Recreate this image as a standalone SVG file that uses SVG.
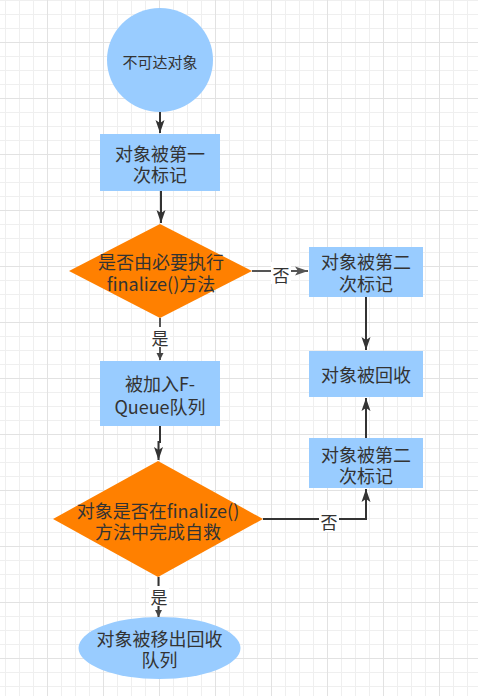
<svg xmlns="http://www.w3.org/2000/svg" width="478" height="696" viewBox="0 0 478 696">
<style>
.t{font-family:"Noto Sans CJK SC","Microsoft YaHei",sans-serif;font-size:18px;fill:#333;text-anchor:middle;dominant-baseline:central}
.s{font-size:15px}
.lb{font-size:17px}
.blue{fill:#99ccff}
.orange{fill:#ff8000}
.e{fill:none;stroke:#333;stroke-width:2}
.g{fill:none;stroke:#555;stroke-width:2}
.bg{fill:#fff}
</style>
<defs>
<pattern id="grid" patternUnits="userSpaceOnUse" x="47" y="42" width="56" height="56">
<rect width="56" height="56" fill="#fff"/>
<path d="M0 14.5H56M0 28.5H56M0 42.5H56M14.5 0V56M28.5 0V56M42.5 0V56" stroke="#efefef" stroke-width="1"/>
<path d="M0 0.5H56M0.5 0V56" stroke="#e2e2e2" stroke-width="1"/>
</pattern>
<marker id="a" markerUnits="userSpaceOnUse" markerWidth="16" markerHeight="12" viewBox="-13 -6 16 12" refX="0" refY="0" orient="auto">
<path d="M0,0 L-13,-4.5 L-10,0 L-13,4.5 Z" fill="#333"/>
</marker>
<marker id="ag" markerUnits="userSpaceOnUse" markerWidth="16" markerHeight="12" viewBox="-13 -6 16 12" refX="0" refY="0" orient="auto">
<path d="M0,0 L-13,-4.5 L-10,0 L-13,4.5 Z" fill="#555"/>
</marker>
<marker id="sm" markerUnits="userSpaceOnUse" markerWidth="10" markerHeight="10" viewBox="-8 -5 10 10" refX="0" refY="0" orient="auto">
<path d="M0,0 L-7,-3.5 L-7,3.5 Z" fill="#444"/>
</marker>
</defs>
<rect width="478" height="696" fill="url(#grid)"/>

<g id="connectors">
<path class="e" d="M160,112 V133" marker-end="url(#a)"/>
<path class="e" d="M161,191 V223" marker-end="url(#a)"/>
<path class="g" d="M252,271 H308" marker-end="url(#ag)"/>
<rect class="bg" x="271" y="262" width="20" height="22"/>
<text class="t lb" x="281" y="274">否</text>
<path class="g" d="M160,318 V360" marker-end="url(#sm)"/>
<rect class="bg" x="150" y="327" width="20" height="20"/>
<text class="t lb" x="160" y="337">是</text>
<path class="e" d="M366,297 V350" marker-end="url(#a)"/>
<path class="e" d="M160,426 V442 H158.5 V460" marker-end="url(#a)"/>
<path class="e" d="M366,438 V398" marker-end="url(#a)"/>
<path class="e" d="M263,519 H366 V489" marker-end="url(#a)"/>
<rect class="bg" x="319" y="510" width="20" height="22"/>
<text class="t lb" x="329" y="521">否</text>
<path class="e" d="M158.5,577 V617" marker-end="url(#sm)"/>
<rect class="bg" x="149" y="586" width="20" height="20"/>
<text class="t lb" x="159" y="596">是</text>
</g>

<g id="n1">
<ellipse class="blue" cx="160" cy="60" rx="53" ry="52"/>
<text class="t s" x="160" y="61">不可达对象</text>
</g>
<g id="n2">
<rect class="blue" x="100" y="134" width="120" height="57"/>
<text class="t"><tspan x="160" y="153">对象被第一</tspan><tspan x="160" y="174">次标记</tspan></text>
</g>
<g id="n3">
<polygon class="orange" points="160,224 252,271 160,318 69,271"/>
<text class="t"><tspan x="161" y="261">是否由必要执行</tspan><tspan x="161" y="283">finalize()方法</tspan></text>
</g>
<g id="n4">
<rect class="blue" x="309" y="247" width="114" height="50"/>
<text class="t"><tspan x="366" y="261">对象被第二</tspan><tspan x="366" y="283">次标记</tspan></text>
</g>
<g id="n5">
<rect class="blue" x="309" y="351" width="114" height="46"/>
<text class="t" x="366" y="374">对象被回收</text>
</g>
<g id="n6">
<rect class="blue" x="100" y="361" width="120" height="65"/>
<text class="t"><tspan x="160" y="383">被加入F-</tspan><tspan x="160" y="406">Queue队列</tspan></text>
</g>
<g id="n7">
<rect class="blue" x="309" y="438" width="114" height="50"/>
<text class="t"><tspan x="366" y="454">对象被第二</tspan><tspan x="366" y="475">次标记</tspan></text>
</g>
<g id="n8">
<polygon class="orange" points="158,461 263,519 158,577 53,519"/>
<text class="t"><tspan x="158" y="510">对象是否在finalize()</tspan><tspan x="158" y="531">方法中完成自救</tspan></text>
</g>
<g id="n9">
<ellipse class="blue" cx="159.5" cy="648" rx="81" ry="31"/>
<text class="t"><tspan x="159.5" y="638">对象被移出回收</tspan><tspan x="159.5" y="659">队列</tspan></text>
</g>
</svg>
